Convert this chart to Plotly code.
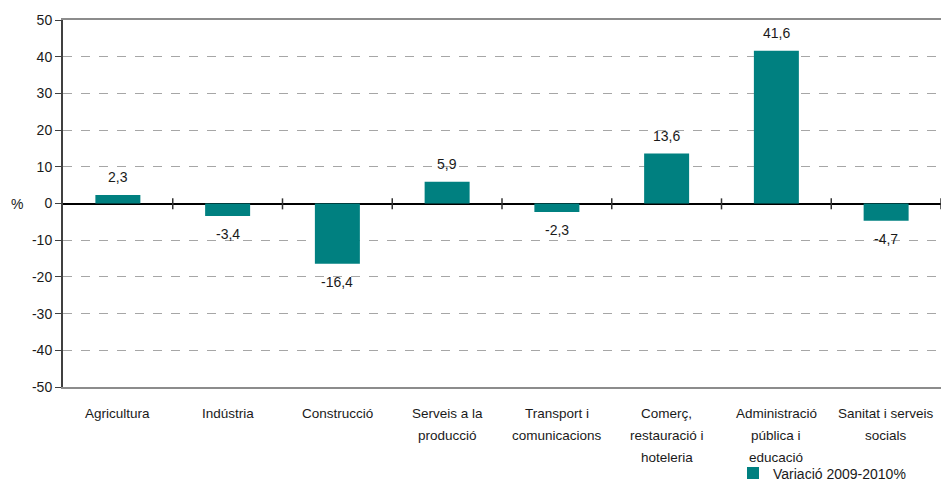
import plotly.graph_objects as go

categories = [
    "Agricultura",
    "Indústria",
    "Construcció",
    "Serveis a la<br>producció",
    "Transport i<br>comunicacions",
    "Comerç,<br>restauració i<br>hoteleria",
    "Administració<br>pública i<br>educació",
    "Sanitat i serveis<br>socials",
]
values = [2.3, -3.4, -16.4, 5.9, -2.3, 13.6, 41.6, -4.7]
series_name = "Variació 2009-2010%"
y_ticks = list(range(-50, 51, 10))

BAR = "#008080"
FONT = "Arial, Liberation Sans, sans-serif"
TXT = "#1a1a1a"

fig = go.Figure()
fig.add_trace(go.Bar(
    x=categories, y=values, name=series_name,
    marker=dict(color=BAR, line=dict(width=0)),
    width=0.41, showlegend=True,
))

# value labels
for c, v in zip(categories, values):
    fig.add_annotation(
        x=c, y=v, xref="x", yref="y",
        text=f"{v:.1f}".replace(".", ","),
        showarrow=False, yshift=18 if v >= 0 else -18,
        font=dict(family=FONT, size=14, color=TXT),
    )

# category labels (one annotation per line for wider line spacing)
for c in categories:
    for k, line in enumerate(c.split("<br>")):
        fig.add_annotation(
            x=c, y=0, xref="x", yref="paper", yanchor="middle",
            text=line, showarrow=False, yshift=-26 - 22 * k,
            font=dict(family=FONT, size=13.5, color=TXT),
        )

# tick marks on the zero line between categories
n = len(categories)
for i in range(n):
    fig.add_shape(type="line", xref="x", yref="y",
                  x0=i + 0.5, x1=i + 0.5, y0=-1.6, y1=1.4,
                  line=dict(color="#333333", width=1.5))

fig.add_annotation(
    xref="paper", yref="y", x=0, y=0, xshift=-46, xanchor="center",
    text="%", showarrow=False,
    font=dict(family=FONT, size=14, color=TXT),
)

fig.update_layout(
    width=941, height=482,
    margin=dict(l=63, r=0, t=20, b=95, autoexpand=False),
    paper_bgcolor="white", plot_bgcolor="white",
    font=dict(family=FONT, size=14, color=TXT),
    bargap=0.59,
    legend=dict(
        orientation="h", x=0.7631, xanchor="left", y=-0.192, yanchor="top",
        font=dict(family=FONT, size=14, color=TXT),
        bgcolor="rgba(0,0,0,0)",
    ),
    xaxis=dict(
        showline=True, mirror=True, linecolor="#8c8c8c", linewidth=2,
        showgrid=False, ticks="", automargin=False, showticklabels=False,
        range=[-0.5, n - 0.5],
    ),
    yaxis=dict(
        range=[-50, 50], tickvals=y_ticks, ticktext=[str(t) for t in y_ticks],
        showline=True, linecolor="#404040", linewidth=2, automargin=False,
        ticks="outside", ticklen=6, tickcolor="#404040",
        showgrid=True, gridcolor="#a6a6a6", griddash="dash", gridwidth=1,
        zeroline=True, zerolinecolor="#000000", zerolinewidth=1.5,
        tickfont=dict(family=FONT, size=14, color=TXT),
    ),
)

fig.write_html(
    "out.html",
    config={"displayModeBar": False},
    post_script="document.body.style.margin='0';document.body.style.overflow='hidden';",
)
